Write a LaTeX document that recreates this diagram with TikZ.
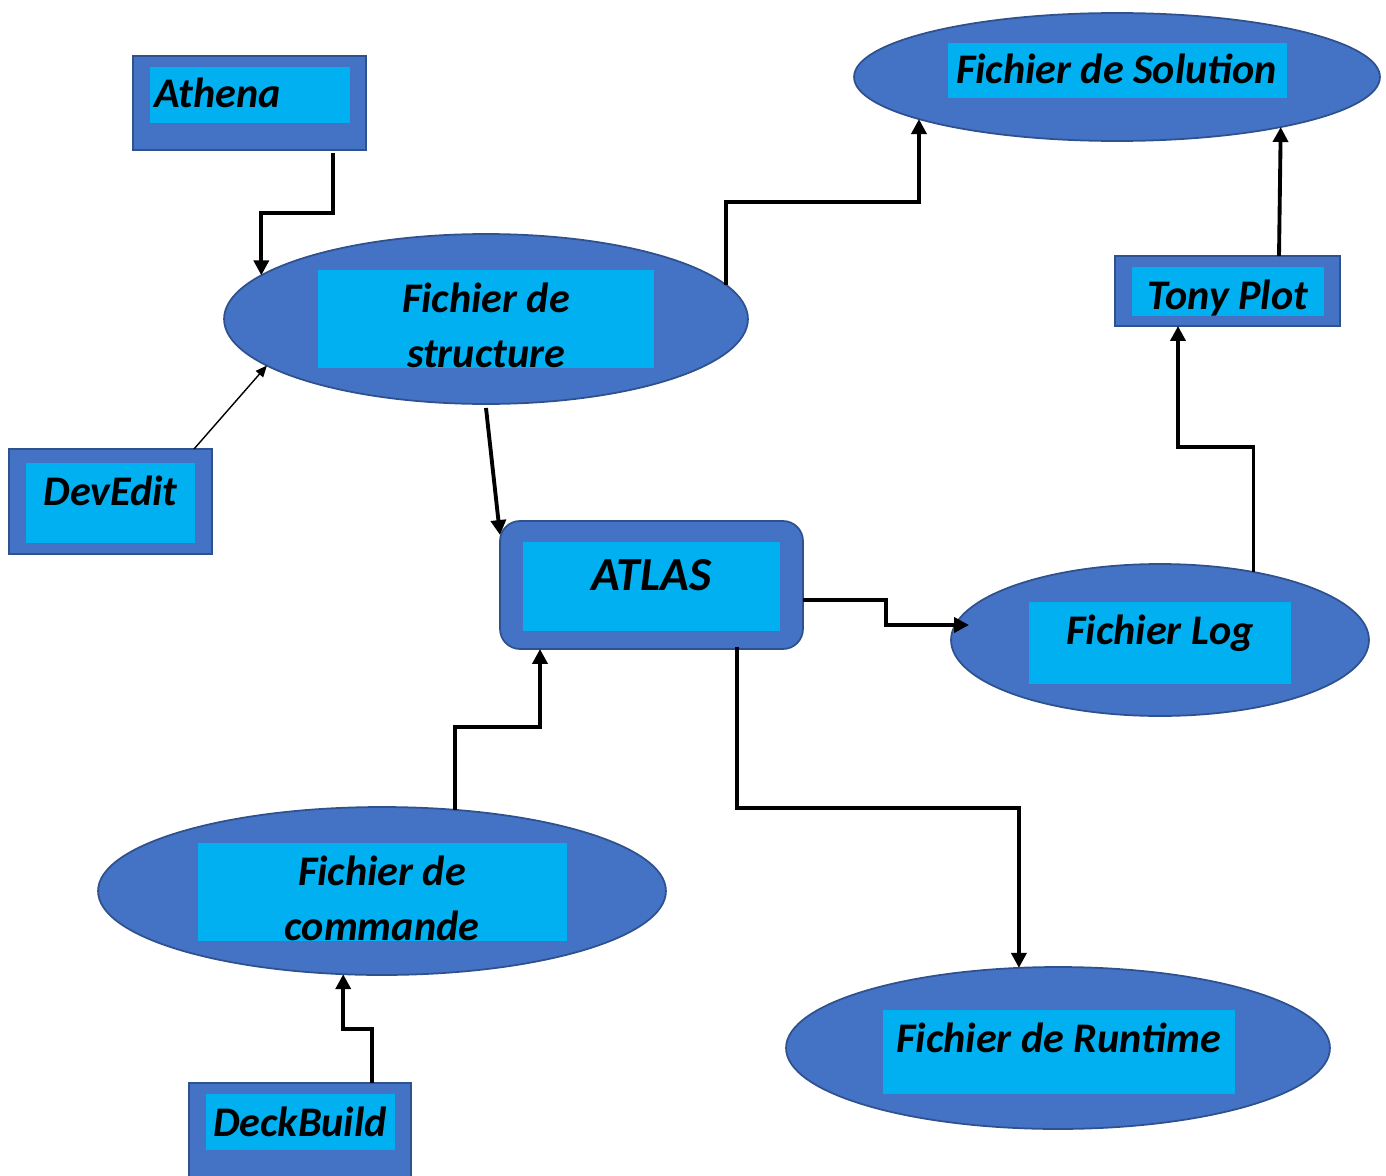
\documentclass[tikz,border=0pt]{standalone}
\usepackage{fontspec}
\setmainfont{Carlito}
\usetikzlibrary{shapes.geometric,arrows.meta,calc}
\definecolor{boxblue}{HTML}{4472C4}
\definecolor{boxedge}{HTML}{2F528F}
\definecolor{boxcyan}{HTML}{00B0F0}
\begin{document}
\begin{tikzpicture}[x=0.02cm, y=-0.02cm,
  outerbox/.style = {shape=rectangle, draw=boxedge, line width=1pt,
    fill=boxblue, inner sep=0pt, outer sep=0pt},
  outerell/.style = {shape=ellipse, draw=boxedge, line width=1pt,
    fill=boxblue, inner sep=0pt, outer sep=0pt},
  innerbox/.style = {shape=rectangle, fill=boxcyan, inner sep=0pt, outer sep=0pt},
  txt/.style = {font=\fontsize{24}{31.2}\selectfont\bfseries\itshape,
    align=center, inner sep=0pt},
  conn/.style = {line width=2.2pt, -{Triangle[length=8.5pt,width=8.5pt]}},
  thinconn/.style = {line width=0.8pt, -{Triangle[length=6.5pt,width=5.5pt]}}
  ]
  \useasboundingbox (0,0) rectangle (1386,1176);
  % tools
  \node[outerbox, minimum width=4.66cm, minimum height=1.88cm] (athena) at (249.5,103) {};
  \node[innerbox, minimum width=4cm, minimum height=1.12cm] (athenaIn) at (250,95) {};
  \node[txt, anchor=base west] (athenaTxt) at (154,108) {Athena};
  \node[outerbox, minimum width=4.06cm, minimum height=2.1cm] (devedit) at (110.5,501.5) {};
  \node[innerbox, minimum width=3.38cm, minimum height=1.6cm] (deveditIn) at (110.5,503) {};
  \node[txt, anchor=base] (deveditTxt) at (110.5,505) {DevEdit};
  \node[outerbox, minimum width=4.5cm, minimum height=1.4cm] (tony) at (1227.5,291) {};
  \node[innerbox, minimum width=3.84cm, minimum height=0.98cm] (tonyIn) at (1228,291.5) {};
  \node[txt, anchor=base] (tonyTxt) at (1228,309) {Tony Plot};
  \node[outerbox, minimum width=4.44cm, minimum height=2.2cm] (deck) at (300,1138) {};
  \node[innerbox, minimum width=3.78cm, minimum height=1.12cm] (deckIn) at (300.5,1122) {};
  \node[txt, anchor=base] (deckTxt) at (300,1136) {DeckBuild};
  % simulator
  \node[outerbox, rounded corners=0.4cm, minimum width=6.06cm, minimum height=2.56cm] (atlas) at (651.5,585) {};
  \node[innerbox, minimum width=5.14cm, minimum height=1.78cm] (atlasIn) at (651.5,586.5) {};
  \node[txt, anchor=base, font=\fontsize{27}{32}\selectfont\bfseries\itshape] (atlasTxt) at (651.5,590) {ATLAS};
  % files
  \node[outerell, minimum width=10.48cm, minimum height=3.4cm] (struct) at (486,319) {};
  \node[innerbox, minimum width=6.72cm, minimum height=1.96cm] (structIn) at (486,319) {};
  \node[txt, anchor=north] (structTxt) at (486,283) {Fichier de\\structure};
  \node[outerell, minimum width=10.52cm, minimum height=2.56cm] (sol) at (1117,77) {};
  \node[innerbox, minimum width=6.78cm, minimum height=1.1cm] (solIn) at (1117.5,70.5) {};
  \node[txt, anchor=base] (solTxt) at (1116.5,84) {Fichier de Solution};
  \node[outerell, minimum width=8.36cm, minimum height=3.04cm] (log) at (1160,640) {};
  \node[innerbox, minimum width=5.24cm, minimum height=1.64cm] (logIn) at (1160,643) {};
  \node[txt, anchor=base] (logTxt) at (1160,644) {Fichier Log};
  \node[outerell, minimum width=11.36cm, minimum height=3.36cm] (cmd) at (382,891) {};
  \node[innerbox, minimum width=7.38cm, minimum height=1.96cm] (cmdIn) at (382.5,892) {};
  \node[txt, anchor=north] (cmdTxt) at (382,856) {Fichier de\\commande};
  \node[outerell, minimum width=10.88cm, minimum height=3.24cm] (run) at (1058,1048) {};
  \node[innerbox, minimum width=7.04cm, minimum height=1.68cm] (runIn) at (1059,1052) {};
  \node[txt, anchor=base] (runTxt) at (1058.5,1052) {Fichier de Runtime};
  % connectors
  \draw[conn] ($(athena.south)+(83.5,3)$) -- ++(0,60) -| (struct.169);
  \draw[thinconn] ($(devedit.north)+(83.5,0)$) -- (struct.192);
  \draw[conn] ($(struct.south)+(0,4)$) -- ($(atlas.north west)+(0,14)$);
  \draw[conn] (struct.8) -- ++(0,-83) -| (sol.192);
  \draw[conn] ($(tony.north)+(51.5,0)$) -- (sol.343);
  \draw[conn] (log.36) -- ++(0,-125) -| ($(tony.south)+(-49.5,0)$);
  \draw[conn] ($(atlas.east)+(0,15)$) -- ++(83,0) |- ($(log.west)+(18,-15)$);
  \draw[conn] ($(atlas.south)+(85.5,-2)$) -- ++(0,161) -| (run.116);
  \draw[conn] (cmd.48) -- ++(0,-83) -| ($(atlas.south)+(-111.5,0)$);
  \draw[conn] ($(deck.north)+(72,0)$) -- ++(0,-54) -| (cmd.245);
\end{tikzpicture}
\end{document}
